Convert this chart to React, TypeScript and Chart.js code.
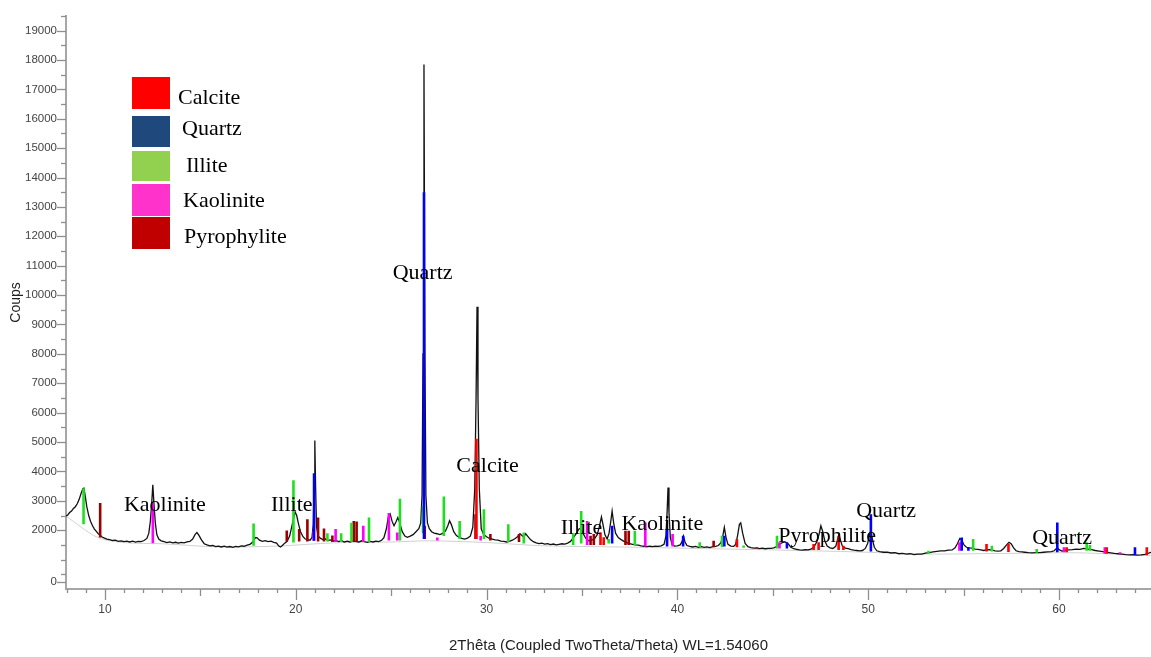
import React, { useEffect, useRef } from 'react';
import { Chart, registerables } from 'chart.js';

Chart.register(...registerables);

// ---------- Diffraction pattern (2θ in degrees, counts) ----------
const patternTheta = [
  7.96, 8.05, 8.15, 8.25, 8.35, 8.45, 8.55, 8.65, 8.75, 8.85, 8.9, 8.97, 9.05, 9.15, 9.25, 9.35, 9.45, 9.55, 9.65, 9.75,
  9.85, 9.95, 10.1, 10.25, 10.4, 10.55, 10.7, 10.85, 11.0, 11.15, 11.3, 11.45, 11.6, 11.75, 11.9, 12.05, 12.2, 12.3, 12.38, 12.45,
  12.51, 12.57, 12.64, 12.72, 12.82, 12.95, 13.1, 13.25, 13.4, 13.55, 13.7, 13.85, 14.0, 14.15, 14.3, 14.45, 14.6, 14.72, 14.82, 14.92,
  15.05, 15.2, 15.35, 15.5, 15.65, 15.8, 15.95, 16.1, 16.25, 16.4, 16.55, 16.7, 16.85, 17.0, 17.15, 17.3, 17.45, 17.6, 17.75, 17.88,
  17.98, 18.1, 18.25, 18.4, 18.55, 18.7, 18.85, 19.0, 19.1, 19.2, 19.3, 19.42, 19.55, 19.68, 19.8, 19.9, 19.97, 20.05, 20.15, 20.25,
  20.38, 20.5, 20.62, 20.75, 20.85, 20.92, 20.96, 21.0, 21.04, 21.09, 21.18, 21.3, 21.42, 21.55, 21.68, 21.8, 21.95, 22.1, 22.25, 22.4,
  22.55, 22.7, 22.85, 23.0, 23.15, 23.3, 23.45, 23.6, 23.75, 23.9, 24.05, 24.2, 24.35, 24.5, 24.62, 24.75, 24.85, 24.95, 25.05, 25.15,
  25.25, 25.35, 25.45, 25.58, 25.72, 25.85, 26.0, 26.15, 26.3, 26.45, 26.55, 26.62, 26.67, 26.72, 26.77, 26.82, 26.9, 27.0, 27.12, 27.25,
  27.4, 27.55, 27.7, 27.85, 27.97, 28.06, 28.15, 28.28, 28.42, 28.55, 28.7, 28.85, 29.0, 29.15, 29.28, 29.38, 29.45, 29.5, 29.55, 29.62,
  29.72, 29.85, 30.0, 30.15, 30.3, 30.45, 30.6, 30.75, 30.9, 31.05, 31.2, 31.35, 31.5, 31.62, 31.75, 31.85, 31.95, 32.05, 32.15, 32.3,
  32.45, 32.6, 32.75, 32.9, 33.05, 33.2, 33.35, 33.5, 33.65, 33.8, 33.95, 34.1, 34.25, 34.4, 34.55, 34.7, 34.85, 34.95, 35.05, 35.2,
  35.35, 35.5, 35.65, 35.8, 35.92, 36.02, 36.1, 36.2, 36.32, 36.42, 36.52, 36.58, 36.66, 36.76, 36.9, 37.05, 37.2, 37.35, 37.5, 37.65,
  37.8, 37.95, 38.1, 38.25, 38.4, 38.55, 38.7, 38.85, 39.0, 39.15, 39.3, 39.4, 39.46, 39.51, 39.56, 39.63, 39.72, 39.85, 40.0, 40.15,
  40.25, 40.32, 40.4, 40.5, 40.65, 40.8, 40.95, 41.1, 41.25, 41.4, 41.55, 41.7, 41.85, 42.0, 42.15, 42.28, 42.38, 42.46, 42.55, 42.65,
  42.8, 42.95, 43.05, 43.15, 43.25, 43.32, 43.42, 43.55, 43.7, 43.85, 44.0, 44.15, 44.3, 44.45, 44.6, 44.75, 44.9, 45.05, 45.2, 45.35,
  45.5, 45.65, 45.8, 45.95, 46.1, 46.25, 46.4, 46.55, 46.7, 46.85, 47.0, 47.15, 47.3, 47.42, 47.52, 47.62, 47.72, 47.85, 48.0, 48.15,
  48.3, 48.4, 48.47, 48.55, 48.65, 48.8, 48.95, 49.1, 49.25, 49.4, 49.55, 49.7, 49.85, 49.97, 50.07, 50.14, 50.22, 50.32, 50.45, 50.6,
  50.8, 51.0, 51.2, 51.4, 51.6, 51.8, 52.0, 52.2, 52.4, 52.6, 52.8, 53.0, 53.2, 53.4, 53.6, 53.8, 54.0, 54.2, 54.4, 54.55,
  54.68, 54.8, 54.9, 55.02, 55.15, 55.3, 55.45, 55.6, 55.75, 55.9, 56.05, 56.2, 56.35, 56.5, 56.65, 56.8, 56.95, 57.1, 57.25, 57.38,
  57.5, 57.62, 57.75, 57.9, 58.05, 58.2, 58.4, 58.6, 58.8, 59.0, 59.2, 59.4, 59.6, 59.75, 59.85, 59.92, 60.0, 60.15, 60.3, 60.5,
  60.7, 60.9, 61.1, 61.3, 61.5, 61.7, 61.9, 62.1, 62.3, 62.5, 62.7, 62.9, 63.1, 63.3, 63.5, 63.7, 63.9, 64.1, 64.3, 64.5,
  64.7, 64.82,
];
const patternCounts = [
  2480, 2520, 2600, 2650, 2740, 2800, 2900, 3050, 3250, 3420, 3430, 3150, 2800, 2500, 2300, 2150, 2040, 1960, 1880, 1830,
  1770, 1740, 1700, 1680, 1650, 1660, 1620, 1640, 1610, 1630, 1600, 1625, 1595, 1620, 1610, 1650, 1720, 1900, 2300, 2900,
  3550, 2900, 2250, 1850, 1700, 1640, 1610, 1580, 1600, 1570, 1590, 1560, 1585, 1570, 1600, 1620, 1700, 1850, 1920, 1830,
  1680, 1540, 1500, 1470, 1480, 1440, 1460, 1430, 1455, 1425, 1445, 1420, 1450, 1435, 1470, 1455, 1490, 1520, 1600, 1750,
  1740, 1660, 1620, 1645, 1610, 1630, 1590, 1560, 1470, 1430, 1480, 1560, 1620, 1800, 2150, 2450, 2620, 2500, 2200, 1950,
  1780, 1700, 1680, 1660, 1750, 2200, 3500, 5050, 3500, 2100, 1800, 1720, 1680, 1700, 1650, 1670, 1630, 1650, 1610, 1640,
  1600, 1630, 1600, 1640, 1620, 1600, 1640, 1610, 1590, 1620, 1600, 1630, 1610, 1660, 1750, 2050, 2450, 2550, 2300, 2150,
  2280, 2430, 2250, 1950, 1800, 1760, 1800, 1850, 1950, 2050, 2250, 3200, 8000, 17850, 8000, 3200, 2250, 2050, 1950, 1900,
  1880, 1850, 1890, 1980, 2150, 2320, 2200, 1950, 1820, 1760, 1720, 1700, 1730, 1800, 2100, 3400, 6500, 9600, 6500, 3400,
  2050, 1850, 1780, 1720, 1700, 1670, 1660, 1630, 1620, 1600, 1620, 1660, 1720, 1780, 1880, 1820, 1760, 1880, 1800, 1680,
  1610, 1570, 1545, 1560, 1530, 1545, 1510, 1530, 1500, 1520, 1540, 1530, 1560, 1620, 1750, 1880, 2050, 2060, 1900, 1720,
  1640, 1660, 1700, 1850, 2150, 2450, 2200, 1850, 1700, 1900, 2350, 2650, 2250, 1900, 1750, 1680, 1620, 1580, 1540, 1520,
  1500, 1490, 1470, 1455, 1440, 1460, 1445, 1460, 1450, 1470, 1520, 1800, 2600, 3450, 2600, 1750, 1520, 1460, 1470, 1500,
  1620, 1800, 1600, 1480, 1450, 1430, 1450, 1420, 1440, 1415, 1430, 1410, 1440, 1450, 1480, 1580, 1800, 2100, 1750, 1520,
  1460, 1450, 1520, 1800, 2200, 2250, 1900, 1550, 1440, 1410, 1390, 1400, 1375, 1390, 1370, 1385, 1380, 1400, 1440, 1520,
  1580, 1600, 1540, 1420, 1370, 1350, 1330, 1320, 1335, 1330, 1360, 1420, 1600, 1850, 2150, 1950, 1650, 1460, 1400, 1380,
  1450, 1700, 1850, 1650, 1450, 1390, 1370, 1340, 1320, 1310, 1300, 1310, 1380, 1550, 1850, 2000, 1700, 1420, 1300, 1270,
  1250, 1255, 1225, 1235, 1200, 1210, 1185, 1200, 1170, 1185, 1190, 1220, 1240, 1260, 1280, 1295, 1300, 1320, 1330, 1400,
  1550, 1720, 1680, 1500, 1420, 1400, 1390, 1360, 1350, 1330, 1310, 1330, 1340, 1320, 1300, 1290, 1300, 1380, 1500, 1590,
  1530, 1400, 1300, 1270, 1260, 1250, 1235, 1230, 1240, 1235, 1250, 1260, 1270, 1300, 1370, 1400, 1340, 1290, 1310, 1330,
  1340, 1360, 1350, 1380, 1360, 1340, 1310, 1290, 1270, 1250, 1230, 1210, 1200, 1185, 1170, 1160, 1170, 1150, 1160, 1180,
  1220, 1250,
];

// fitted background (thin grey line)
const backgroundTheta = [7.96, 9.6, 11, 13, 16, 19, 22, 25, 27, 30, 33, 37, 41, 45, 49, 53, 57, 61, 64.82];
const backgroundCounts = [2480, 1760, 1580, 1540, 1430, 1460, 1570, 1600, 1640, 1580, 1470, 1430, 1380, 1330, 1270, 1190, 1210, 1230, 1130];

// ---------- Phase reference sticks ----------
const calcitePos = [29.47, 35.97, 36.14, 43.12, 44.17, 47.14, 47.4, 48.45, 48.7, 56.2, 57.35, 60.4, 62.5, 64.6];
const calciteBase = [1700, 1500, 1500, 1420, 1380, 1330, 1330, 1330, 1330, 1280, 1260, 1250, 1200, 1150];
const calciteTop = [5110, 1920, 1760, 1700, 1420, 1530, 1590, 1810, 1475, 1530, 1530, 1420, 1420, 1420];

const quartzPos = [20.96, 26.72, 36.58, 39.46, 40.3, 42.46, 45.74, 50.14, 54.9, 55.25, 59.91, 63.98];
const quartzBase = [1640, 1700, 1550, 1450, 1450, 1450, 1380, 1280, 1300, 1300, 1250, 1150];
const quartzTop = [3940, 13500, 2150, 2040, 1810, 1810, 1590, 2540, 1755, 1420, 2260, 1420];

const illitePos = [8.88, 17.79, 19.88, 21.66, 22.38, 22.92, 23.84, 25.46, 26.67, 27.76, 28.59, 29.86, 31.14, 31.95, 34.54, 34.96, 36.4, 37.77, 41.17, 42.34, 43.47, 45.22, 53.16, 55.5, 56.48, 58.83, 61.45, 61.62];
const illiteBase = [2200, 1475, 1580, 1620, 1600, 1600, 1600, 1650, 1900, 1800, 1700, 1700, 1600, 1550, 1500, 1550, 1550, 1500, 1420, 1420, 1400, 1380, 1200, 1300, 1280, 1230, 1300, 1300];
const illiteTop = [3430, 2225, 3700, 1900, 1900, 2250, 2430, 3075, 2820, 3150, 2315, 2710, 2200, 1920, 1870, 2650, 1700, 1980, 1590, 1810, 1480, 1810, 1300, 1700, 1475, 1360, 1590, 1500];

const kaolinitePos = [12.51, 20.94, 22.09, 23.54, 24.88, 25.32, 27.42, 29.69, 35.27, 38.32, 39.75, 45.35, 54.78, 60.26, 62.4, 63.2];
const kaoliniteBase = [1560, 1640, 1600, 1600, 1650, 1650, 1650, 1650, 1500, 1450, 1450, 1380, 1300, 1250, 1200, 1180];
const kaoliniteTop = [2900, 1980, 2040, 2150, 2590, 1920, 1755, 1800, 2315, 2260, 1870, 1590, 1590, 1420, 1420, 1250];

const pyroPos = [9.75, 19.53, 20.18, 20.61, 21.17, 21.48, 21.92, 23.04, 23.19, 26.76, 29.42, 30.2, 31.7, 35.45, 35.62, 37.28, 37.45, 41.9];
const pyroBase = [1755, 1620, 1620, 1620, 1620, 1620, 1600, 1600, 1600, 1700, 1700, 1650, 1600, 1500, 1500, 1500, 1500, 1420];
const pyroTop = [2930, 1990, 2040, 2370, 2430, 2060, 1820, 2315, 2300, 2150, 2540, 1870, 1870, 1810, 1870, 1980, 1980, 1640];

// ---------- Legend ----------
const legendNames = ['Calcite', 'Quartz', 'Illite', 'Kaolinite', 'Pyrophylite'];
const legendColors = ['#FF0000', '#1F497D', '#92D050', '#FF33CC', '#C00000'];

// ---------- Peak annotations (anchor: 2θ, counts at text baseline) ----------
const annotationText = ['Kaolinite', 'Illite', 'Quartz', 'Calcite', 'Illite', 'Kaolinite', 'Pyrophilite', 'Quartz', 'Quartz'];
const annotationTheta = [13.14, 19.79, 26.65, 30.05, 34.97, 39.21, 47.85, 50.94, 60.16];
const annotationCounts = [2651, 2651, 10537, 3970, 1879, 2003, 1587, 2450, 1534];

// ---------- Axes ----------
const xMin = 7.96;
const xMax = 64.82;
const yMin = 0;
const yMax = 19500;
const xTickValues = Array.from({ length: 57 }, (_, i) => 8 + i);
const yTickValues = [250, ...Array.from({ length: 39 }, (_, i) => 500 + i * 500)];
const xTitle = '2Thêta (Coupled TwoTheta/Theta) WL=1.54060';
const yTitle = 'Coups';

const SANS = '"Liberation Sans", Arial, sans-serif';
const SERIF = '"Liberation Serif", "Times New Roman", serif';

function stickData(pos: number[], base: number[], top: number[]) {
  const out: { x: number; y: number | null }[] = [];
  pos.forEach((x, i) => {
    out.push({ x, y: base[i] }, { x, y: top[i] }, { x, y: null });
  });
  return out;
}

const overlayPlugin = {
  id: 'overlay',
  afterDraw(chart: any) {
    const ctx: CanvasRenderingContext2D = chart.ctx;
    const xs = chart.scales.x;
    const ys = chart.scales.y;
    const ca = chart.chartArea;
    ctx.save();

    // tick marks
    ctx.strokeStyle = '#8f8f8f';
    ctx.lineWidth = 1.3;
    ys.ticks.forEach((t: any) => {
      const y = Math.round(ys.getPixelForValue(t.value)) + 0.5;
      const len = t.label ? 9 : 5;
      ctx.beginPath();
      ctx.moveTo(ca.left - len, y);
      ctx.lineTo(ca.left, y);
      ctx.stroke();
    });
    xs.ticks.forEach((t: any) => {
      const x = Math.round(xs.getPixelForValue(t.value)) + 0.5;
      const len = t.value % 10 === 0 ? 11 : t.value % 5 === 0 ? 7 : 4;
      ctx.beginPath();
      ctx.moveTo(x, ca.bottom);
      ctx.lineTo(x, ca.bottom + len);
      ctx.stroke();
    });

    // axis titles
    ctx.fillStyle = '#222';
    ctx.font = `15px ${SANS}`;
    ctx.textAlign = 'center';
    ctx.textBaseline = 'middle';
    ctx.fillText(xTitle, (ca.left + ca.right) / 2, 646);
    ctx.save();
    ctx.translate(16, (ca.top + ca.bottom) / 2);
    ctx.rotate(-Math.PI / 2);
    ctx.font = `14px ${SANS}`;
    ctx.fillText(yTitle, 0, 0);
    ctx.restore();

    // legend
    const boxTops = [77, 116, 151, 184, 217];
    const boxHeights = [32, 31, 30, 32, 32];
    const textX = [178, 182, 186, 183, 184];
    const textBase = [104, 135, 172, 207, 243];
    ctx.font = `22px ${SERIF}`;
    ctx.textAlign = 'left';
    ctx.textBaseline = 'alphabetic';
    legendNames.forEach((name, i) => {
      ctx.fillStyle = legendColors[i];
      ctx.fillRect(132, boxTops[i], 38, boxHeights[i]);
      ctx.fillStyle = '#000';
      ctx.fillText(name, textX[i], textBase[i]);
    });

    // peak annotations
    ctx.textAlign = 'center';
    ctx.fillStyle = '#000';
    annotationText.forEach((txt, i) => {
      const x = xs.getPixelForValue(annotationTheta[i]);
      const y = ys.getPixelForValue(annotationCounts[i]);
      ctx.fillText(txt, x, y);
    });
    ctx.restore();
  },
};

export default function App() {
  const ref = useRef<HTMLCanvasElement | null>(null);

  useEffect(() => {
    if (!ref.current) return;
    const stickSet = (label: string, color: string, pos: number[], base: number[], top: number[], order: number) => ({
      type: 'line' as const,
      label,
      data: stickData(pos, base, top),
      borderColor: color,
      borderWidth: 2.6,
      pointRadius: 0,
      spanGaps: false,
      tension: 0,
      order,
      borderCapStyle: 'butt' as const,
    });

    const chart = new Chart(ref.current, {
      type: 'line',
      data: {
        datasets: [
          stickSet('Quartz', '#0000FF', quartzPos, quartzBase, quartzTop, 1),
          stickSet('Calcite', '#FF0000', calcitePos, calciteBase, calciteTop, 2),
          stickSet('Kaolinite', '#FF00FF', kaolinitePos, kaoliniteBase, kaoliniteTop, 3),
          stickSet('Illite', '#1FE01F', illitePos, illiteBase, illiteTop, 4),
          stickSet('Pyrophylite', '#9B0000', pyroPos, pyroBase, pyroTop, 5),
          {
            type: 'line',
            label: 'pattern',
            data: patternTheta.map((x, i) => ({ x, y: patternCounts[i] })),
            borderColor: '#111111',
            borderWidth: 1.3,
            pointRadius: 0,
            tension: 0,
            order: 10,
          },
          {
            type: 'line',
            label: 'background',
            data: backgroundTheta.map((x, i) => ({ x, y: backgroundCounts[i] })),
            borderColor: '#d0d0d0',
            borderWidth: 1,
            pointRadius: 0,
            tension: 0.3,
            order: 11,
          },
        ],
      },
      options: {
        responsive: false,
        animation: false,
        devicePixelRatio: 1,
        layout: { padding: { top: 8, right: 0, left: 0, bottom: 0 } },
        plugins: { legend: { display: false }, tooltip: { enabled: false } },
        events: [],
        scales: {
          x: {
            type: 'linear',
            min: xMin,
            max: xMax,
            afterBuildTicks: (scale: any) => {
              scale.ticks = xTickValues.map((v) => ({ value: v }));
            },
            afterFit: (scale: any) => {
              scale.height = 68;
            },
            ticks: {
              autoSkip: false,
              maxRotation: 0,
              padding: 13,
              color: '#444',
              font: { family: SANS, size: 12 },
              callback: (v: any) => (Number(v) % 10 === 0 ? String(v) : ''),
            },
            grid: { display: true, drawOnChartArea: false, drawTicks: false },
            border: { display: true, color: '#a6a6a6', width: 2 },
          },
          y: {
            type: 'linear',
            min: yMin,
            max: yMax,
            afterBuildTicks: (scale: any) => {
              scale.ticks = yTickValues.map((v) => ({ value: v }));
            },
            afterFit: (scale: any) => {
              scale.width = 66;
            },
            ticks: {
              autoSkip: false,
              padding: 9,
              color: '#444',
              font: { family: SANS, size: 11.5 },
              callback: (v: any) => {
                const n = Number(v);
                if (n === 250) return '0';
                if (n >= 2000 && n % 1000 === 0) return String(n);
                return '';
              },
            },
            grid: { display: true, drawOnChartArea: false, drawTicks: false },
            border: { display: true, color: '#a6a6a6', width: 2 },
          },
        },
      },
      plugins: [overlayPlugin],
    });
    return () => chart.destroy();
  }, []);

  return (
    <div style={{ position: 'absolute', left: 0, top: 0, width: 1151, height: 657, background: '#fff' }}>
      <canvas ref={ref} width={1151} height={657} style={{ display: 'block', width: 1151, height: 657 }} />
    </div>
  );
}
